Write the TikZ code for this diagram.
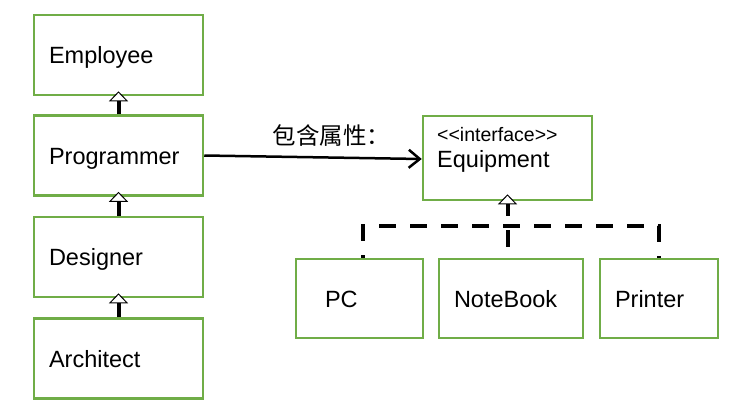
\documentclass[tikz,border=0pt]{standalone}
\usepackage{fontspec}
\setmainfont{Liberation Sans}
\newfontfamily\cjk{Noto Sans CJK SC}
\usepackage{tikz}
\usetikzlibrary{arrows.meta,calc,positioning}
\definecolor{umlgreen}{RGB}{112,173,71}

\tikzset{
  umlbox/.style={draw=umlgreen, line width=2.5pt, fill=white, rectangle,
    minimum height=80pt, inner xsep=15pt, text width=139pt, align=left,
    text height=17pt, text depth=0pt, font=\fontsize{23.5}{28}\selectfont},
  inherit/.style={line width=4pt, shorten >=-5pt,
    -{Triangle[width=19pt, length=10pt, line width=1pt, fill=white]}},
  realize/.style={line width=4pt, dash pattern=on 17pt off 14pt},
  assoc/.style={line width=2.5pt, -{Straight Barb[length=11pt, width=18pt]}}
}

\begin{document}
\begin{tikzpicture}[x=1pt, y=-1pt]
    \useasboundingbox (0,0) rectangle (755,410);
    % class hierarchy
    \node[umlbox] (emp) at (118.5,55) {Employee};
    \node[umlbox] (pro) at (118.5,155.5) {Programmer};
    \node[umlbox] (des) at (118.5,257) {Designer};
    \node[umlbox] (arc) at (118.5,358.5) {Architect};
    \draw[inherit] (pro.north) -- (emp.south);
    \draw[inherit] (des.north) -- (pro.south);
    \draw[inherit] (arc.north) -- (des.south);
    % interface
    \node[umlbox, minimum height=84pt] (eqp) at (507.5,158) {};
    \node[anchor=base west, inner sep=0pt, font=\fontsize{19.5}{21}\selectfont]
        (eqtag) at (437,141) {<\kern0pt<interface>\kern0pt>};
    \node[anchor=base west, inner sep=0pt, font=\fontsize{23.5}{28}\selectfont]
        (eqname) at (437,167) {Equipment};
    \draw[assoc] (pro.east) -- ($(eqp.west)+(0,1)$)
        node[pos=0.585, above=7pt, font=\cjk\fontsize{23.5}{26}\selectfont] (has) {包含属性：};
    % implementations
    \node[umlbox, minimum height=79pt, text width=83pt, inner xsep=22pt] (pc) at (359.5,298.5) {\hspace*{7pt}PC};
    \node[umlbox, minimum height=79pt, text width=114pt] (nb) at (511,298.5) {NoteBook};
    \node[umlbox, minimum height=79pt, text width=88pt] (prn) at (659,298.5) {Printer};
    \coordinate (bus) at (507.5,226);
    \draw[realize, dash phase=14pt] (pc.north -| 363,0) |- (bus) -| (prn.north);
    \draw[realize, dash phase=20pt, shorten >=-7pt,
        -{Triangle[width=19pt, length=10pt, line width=1pt, fill=white]}]
        (nb.north -| eqp.south) -- (eqp.south);
\end{tikzpicture}
\end{document}
